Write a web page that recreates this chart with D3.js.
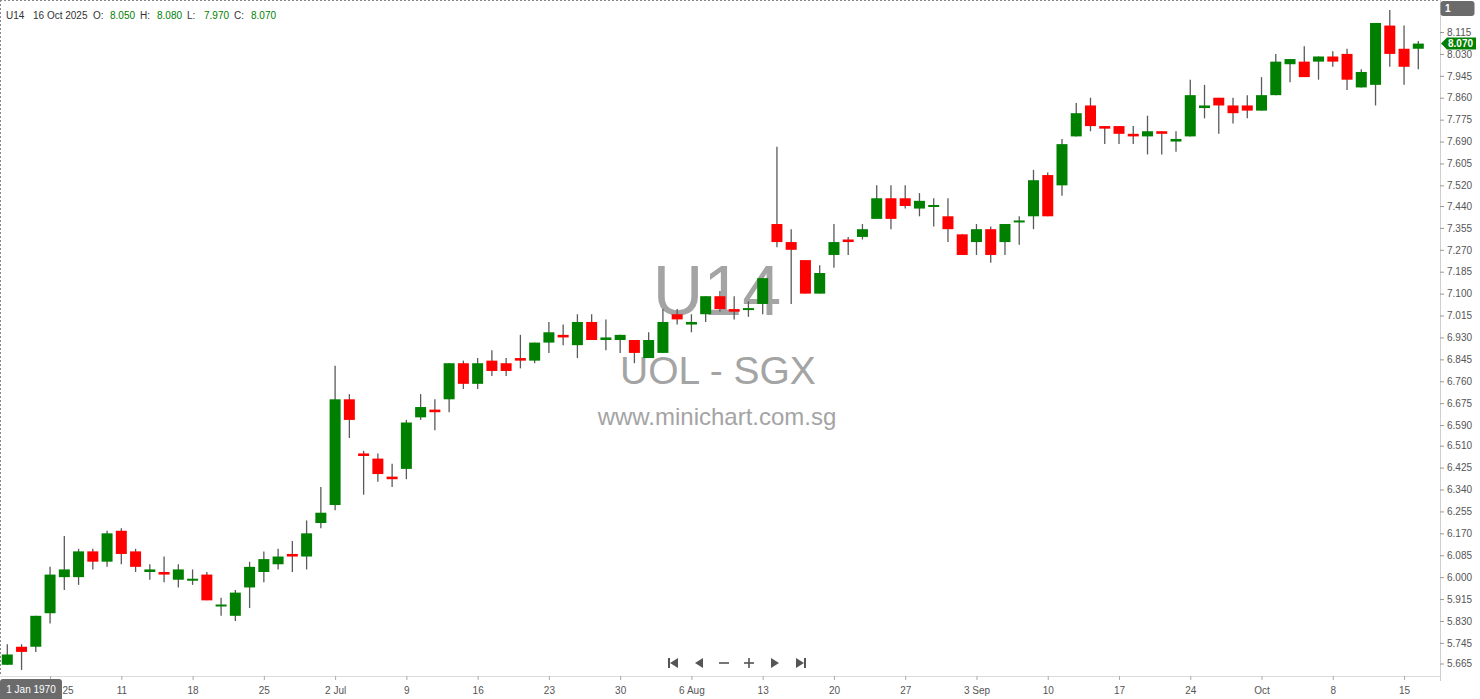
<!DOCTYPE html>
<html><head><meta charset="utf-8">
<script src="https://cdn.jsdelivr.net/npm/d3@7"></script>
<style>
html,body{margin:0;padding:0;background:#fff;}
svg{display:block;font-family:"Liberation Sans",Arial,sans-serif;}
</style></head>
<body>
<svg id="chart" width="1480" height="699"></svg>
<script>
// ---- data ----
const symbol = "U14";
const lastDate = "16 Oct 2025";
const opens  = [5.66,5.73,5.73,5.86,6.00,6.00,6.10,6.06,6.18,6.10,6.02,6.02,5.99,5.99,6.01,5.89,5.85,5.96,6.02,6.05,
                6.09,6.08,6.21,6.28,6.69,6.48,6.46,6.39,6.42,6.62,6.65,6.69,6.83,6.75,6.84,6.83,6.85,6.84,6.91,6.94,
                6.90,6.99,6.92,6.92,6.92,6.85,6.87,7.02,6.98,7.02,7.09,7.04,7.04,7.06,7.37,7.30,7.23,7.10,7.25,7.31,
                7.32,7.39,7.47,7.47,7.43,7.44,7.40,7.33,7.30,7.35,7.30,7.38,7.40,7.56,7.52,7.71,7.83,7.75,7.75,7.72,
                7.71,7.73,7.69,7.71,7.82,7.86,7.83,7.83,7.81,7.87,7.99,8.00,8.00,8.02,8.03,7.90,7.91,8.14,8.05,8.05];
const highs  = [5.74,5.74,5.85,6.04,6.16,6.11,6.11,6.18,6.19,6.11,6.05,6.08,6.05,6.03,6.02,5.92,5.95,6.06,6.10,6.11,
                6.14,6.22,6.35,6.82,6.71,6.49,6.48,6.44,6.61,6.71,6.69,6.83,6.84,6.85,6.88,6.85,6.94,6.91,6.99,6.98,
                7.02,7.02,7.00,6.94,6.92,6.95,7.04,7.04,7.02,7.09,7.11,7.09,7.07,7.16,7.67,7.35,7.23,7.21,7.37,7.32,
                7.37,7.52,7.52,7.52,7.49,7.47,7.47,7.33,7.37,7.36,7.37,7.40,7.58,7.57,7.70,7.84,7.86,7.75,7.75,7.75,
                7.79,7.73,7.73,7.93,7.91,7.86,7.86,7.87,7.94,8.03,8.01,8.06,8.02,8.04,8.05,7.97,8.15,8.20,8.14,8.08];
const lows   = [5.66,5.64,5.71,5.82,5.95,5.97,6.03,6.04,6.05,6.02,5.99,5.98,5.96,5.97,5.91,5.85,5.83,5.88,5.98,6.03,
                6.02,6.03,6.19,6.26,6.54,6.32,6.37,6.35,6.38,6.61,6.57,6.64,6.73,6.73,6.78,6.78,6.81,6.83,6.87,6.90,
                6.85,6.92,6.88,6.87,6.83,6.85,6.87,6.98,6.95,6.99,7.03,7.00,7.01,7.02,7.28,7.06,7.10,7.10,7.20,7.25,
                7.31,7.39,7.35,7.43,7.40,7.36,7.30,7.25,7.25,7.22,7.25,7.29,7.35,7.40,7.48,7.71,7.73,7.68,7.68,7.68,
                7.64,7.64,7.65,7.71,7.78,7.72,7.76,7.78,7.81,7.87,7.92,7.94,7.93,7.98,7.89,7.90,7.83,7.98,7.91,7.97];
const closes = [5.70,5.71,5.85,6.01,6.03,6.10,6.06,6.17,6.09,6.04,6.03,6.01,6.03,5.99,5.91,5.89,5.94,6.04,6.07,6.08,
                6.08,6.17,6.25,6.69,6.61,6.47,6.40,6.38,6.60,6.66,6.64,6.83,6.75,6.83,6.80,6.80,6.84,6.91,6.95,6.93,
                6.99,6.92,6.93,6.94,6.87,6.92,6.99,7.00,6.99,7.09,7.04,7.03,7.04,7.16,7.30,7.27,7.10,7.18,7.30,7.30,
                7.35,7.47,7.39,7.44,7.46,7.44,7.35,7.25,7.35,7.25,7.37,7.38,7.54,7.40,7.68,7.80,7.75,7.74,7.72,7.71,
                7.73,7.72,7.70,7.87,7.83,7.83,7.80,7.81,7.87,8.00,8.01,7.94,8.02,8.00,7.93,7.96,8.15,8.03,7.98,8.07];
const xTickIndex  = [3,8,13,18,23,28,33,38,43,48,53,58,63,68,73,78,83,88,93,98];
const xTickLabels = ["25","11","18","25","2 Jul","9","16","23","30","6 Aug","13","20","27","3 Sep","10","17","24","Oct","8","15"];
const yTickLabels = ["5.665","5.745","5.830","5.915","6.000","6.085","6.170","6.255","6.340","6.425","6.510","6.590","6.675",
                     "6.760","6.845","6.930","7.015","7.100","7.185","7.270","7.355","7.440","7.520","7.605","7.690","7.775",
                     "7.860","7.945","8.030","8.115"];
const watermark = ["U14","UOL - SGX","www.minichart.com.sg"];

// ---- drawing ----
const svg = d3.select("#chart");
const n = opens.length;
const plotRight = 1440, plotBottom = 676;
const x = d3.scaleLinear().domain([0, n - 1]).range([7.3, 1418.3]);
const y = d3.scaleLinear().domain([5.665, 8.115]).range([663.5, 32]);
const UP = "#008000", DOWN = "#ff0000";

// watermark
const wm = svg.append("g").attr("fill", "#a4a4a4").attr("text-anchor", "middle");
wm.append("text").attr("x", 717).attr("y", 315).attr("font-size", 70).text(watermark[0]);
wm.append("text").attr("x", 718).attr("y", 384).attr("font-size", 39).text(watermark[1]);
wm.append("text").attr("x", 717).attr("y", 425).attr("font-size", 24).text(watermark[2]);

// candles
const data = opens.map((o, i) => ({i, o, h: highs[i], l: lows[i], c: closes[i]}));
const cg = svg.append("g");
const bw = 11;
cg.selectAll("line.wick").data(data).join("line")
  .attr("class", "wick")
  .attr("x1", d => x(d.i)).attr("x2", d => x(d.i))
  .attr("y1", d => y(d.h)).attr("y2", d => y(d.l))
  .attr("stroke", "#5a5a5a").attr("stroke-width", 1.3);
cg.selectAll("rect.body").data(data).join("rect")
  .attr("class", "body")
  .attr("x", d => x(d.i) - bw / 2)
  .attr("width", bw)
  .attr("y", d => {
    const t = y(Math.max(d.o, d.c)), b = y(Math.min(d.o, d.c));
    return (b - t < 2) ? (t + b) / 2 - 1 : t;
  })
  .attr("height", d => Math.max(2, y(Math.min(d.o, d.c)) - y(Math.max(d.o, d.c))))
  .attr("fill", d => d.c >= d.o ? UP : DOWN);

// borders
svg.append("line").attr("x1", 0).attr("x2", plotRight).attr("y1", 0.5).attr("y2", 0.5)
  .attr("stroke", "#888").attr("stroke-dasharray", "2,2");
svg.append("line").attr("x1", 0.5).attr("x2", 0.5).attr("y1", 0).attr("y2", plotBottom)
  .attr("stroke", "#888").attr("stroke-dasharray", "2,2");
svg.append("line").attr("x1", 0).attr("x2", plotRight).attr("y1", plotBottom + 0.5).attr("y2", plotBottom + 0.5)
  .attr("stroke", "#dcdcdc");
svg.append("line").attr("x1", plotRight + 0.5).attr("x2", plotRight + 0.5).attr("y1", 0).attr("y2", 681)
  .attr("stroke", "#cfcfcf");

// right axis
const yAxis = d3.axisRight(y).tickValues(yTickLabels.map(Number))
  .tickFormat((d, i) => yTickLabels[i]).tickSize(4).tickPadding(3);
const ya = svg.append("g").attr("transform", `translate(${plotRight},0)`).call(yAxis);
ya.select(".domain").remove();
ya.selectAll(".tick line").attr("stroke", "#999");
ya.selectAll(".tick text").attr("fill", "#555").attr("font-size", 10)
  .attr("font-family", "'Liberation Sans',Arial,sans-serif");

// bottom axis
const xAxis = d3.axisBottom(x).tickValues(xTickIndex)
  .tickFormat((d, i) => xTickLabels[i]).tickSize(4).tickPadding(7);
const xa = svg.append("g").attr("transform", `translate(0,${plotBottom})`).call(xAxis);
xa.select(".domain").remove();
xa.selectAll(".tick line").attr("stroke", "#aaa");
xa.selectAll(".tick text").attr("fill", "#555").attr("font-size", 10)
  .attr("font-family", "'Liberation Sans',Arial,sans-serif")
  .each(function(d) {
    const px = x(d);
    if (px < 64) d3.select(this).attr("text-anchor", "start").attr("x", 62 - px);
  });

// date box bottom-left
svg.append("rect").attr("x", 0).attr("y", 679).attr("width", 62).attr("height", 22).attr("rx", 3)
  .attr("fill", "#6b6b6b");
svg.append("text").attr("x", 31).attr("y", 693).attr("text-anchor", "middle")
  .attr("fill", "#fff").attr("font-size", 10).text("1 Jan 1970");

// box top-right
svg.append("rect").attr("x", 1440.5).attr("y", 1).attr("width", 34).attr("height", 15).attr("rx", 3)
  .attr("fill", "#6b6b6b");
svg.append("text").attr("x", 1445).attr("y", 12).attr("fill", "#fff").attr("font-size", 10)
  .attr("font-weight", "bold").text("1");

// last price tag
const last = closes[n - 1];
const yc = y(last);
svg.append("path")
  .attr("d", `M1441,${yc} L1447,${yc - 6} L1476,${yc - 6} L1476,${yc + 6} L1447,${yc + 6} Z`)
  .attr("fill", UP);
svg.append("text").attr("x", 1448).attr("y", yc + 3.6).attr("fill", "#fff")
  .attr("font-size", 10).attr("font-weight", "bold").text(last.toFixed(3));

// header
const hdr = svg.append("text").attr("x", 6).attr("y", 19).attr("font-size", 10).attr("fill", "#333")
  .attr("xml:space", "preserve");
const last4 = [["O: ", opens[n-1]], ["H: ", highs[n-1]], ["L: ", lows[n-1]], ["C: ", closes[n-1]]];
hdr.append("tspan").text(symbol);
hdr.append("tspan").attr("x", 33).text(lastDate);
let hx = 93;
last4.forEach(([lab, v]) => {
  hdr.append("tspan").attr("x", hx).text(lab);
  hdr.append("tspan").attr("x", hx + 17).attr("fill", UP).text(v.toFixed(3));
  hx += 47;
});

// navigation icons
const nav = svg.append("g").attr("fill", "#555").attr("stroke", "#555");
const ny = 663;
// |<
nav.append("rect").attr("x", 668).attr("y", ny - 5).attr("width", 2).attr("height", 10).attr("stroke", "none");
nav.append("path").attr("d", `M670,${ny} L678,${ny - 5} L678,${ny + 5} Z`).attr("stroke", "none");
// <
nav.append("path").attr("d", `M695,${ny} L703,${ny - 5} L703,${ny + 5} Z`).attr("stroke", "none");
// -
nav.append("rect").attr("x", 719).attr("y", ny - 0.8).attr("width", 10).attr("height", 1.6).attr("stroke", "none");
// +
nav.append("rect").attr("x", 744).attr("y", ny - 0.8).attr("width", 10).attr("height", 1.6).attr("stroke", "none");
nav.append("rect").attr("x", 748.2).attr("y", ny - 5).attr("width", 1.6).attr("height", 10).attr("stroke", "none");
// >
nav.append("path").attr("d", `M779,${ny} L771,${ny - 5} L771,${ny + 5} Z`).attr("stroke", "none");
// >|
nav.append("path").attr("d", `M804,${ny} L796,${ny - 5} L796,${ny + 5} Z`).attr("stroke", "none");
nav.append("rect").attr("x", 804).attr("y", ny - 5).attr("width", 2).attr("height", 10).attr("stroke", "none");
</script>
</body></html>
